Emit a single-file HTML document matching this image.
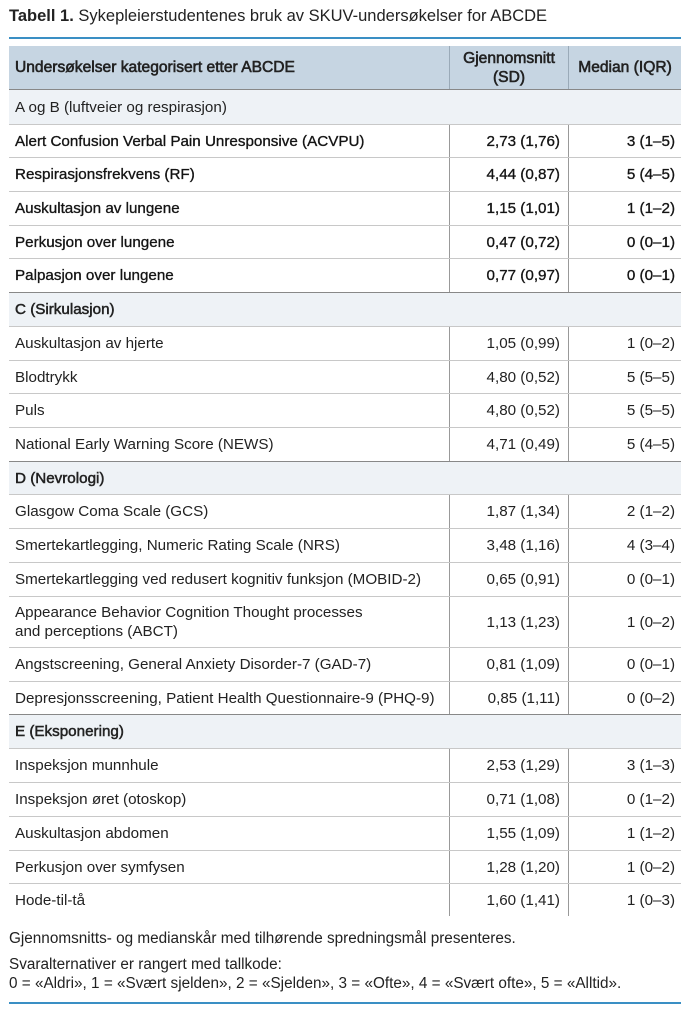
<!DOCTYPE html>
<html><head><meta charset="utf-8"><style>
body{margin:0;width:691px;height:1024px;background:#fff;font-family:"Liberation Sans",sans-serif;color:#222;position:relative;overflow:hidden}
.t{position:absolute;left:9px;top:7px;font-size:16.5px;white-space:nowrap}
.bl{position:absolute;left:9px;width:672px;height:2px;background:#3a8fc4}
.r{position:absolute;left:9px;width:672px;border-top:1px solid #c8c8c8;box-sizing:border-box;font-size:15.2px;white-space:nowrap}
.r div{position:absolute;top:0;bottom:0;display:flex;align-items:center;box-sizing:border-box}
.c1{left:0;width:440px;padding-left:6px}
.c2{left:440px;width:119px;border-left:1px solid #999;justify-content:flex-end;padding-right:8px}
.c3{left:559px;width:113px;border-left:1px solid #999;justify-content:flex-end;padding-right:6px}
.s{background:#eef2f6;border-top:1px solid #888;-webkit-text-stroke:0.5px #222}
.h{background:#c6d5e2;border-top:none;-webkit-text-stroke:0.6px #222;font-size:15.6px}
.h .c2,.h .c3{justify-content:center;text-align:center;padding-right:0;border-left:1px solid #9aaab8;line-height:19px}
.b{-webkit-text-stroke:0.35px #222;color:#111}
.f{position:absolute;left:9px;font-size:15.3px;line-height:19px;white-space:nowrap}
</style></head><body>
<div class="t"><b>Tabell 1.</b> Sykepleierstudentenes bruk av SKUV-undersøkelser for ABCDE</div>
<div class="bl" style="top:37px"></div>
<div class="r h" style="top:46px;height:43px"><div class="c1">Undersøkelser kategorisert etter ABCDE</div><div class="c2">Gjennomsnitt<br>(SD)</div><div class="c3">Median (IQR)</div></div>
<div class="r s" style="top:89px;height:35px;-webkit-text-stroke:0"><div class="c1">A og B (luftveier og respirasjon)</div></div>
<div class="r b" style="top:124px;height:33px"><div class="c1">Alert Confusion Verbal Pain Unresponsive (ACVPU)</div><div class="c2">2,73 (1,76)</div><div class="c3">3 (1–5)</div></div>
<div class="r b" style="top:157px;height:34px"><div class="c1">Respirasjonsfrekvens (RF)</div><div class="c2">4,44 (0,87)</div><div class="c3">5 (4–5)</div></div>
<div class="r b" style="top:191px;height:34px"><div class="c1">Auskultasjon av lungene</div><div class="c2">1,15 (1,01)</div><div class="c3">1 (1–2)</div></div>
<div class="r b" style="top:225px;height:33px"><div class="c1">Perkusjon over lungene</div><div class="c2">0,47 (0,72)</div><div class="c3">0 (0–1)</div></div>
<div class="r b" style="top:258px;height:34px"><div class="c1">Palpasjon over lungene</div><div class="c2">0,77 (0,97)</div><div class="c3">0 (0–1)</div></div>
<div class="r s" style="top:292px;height:34px"><div class="c1">C (Sirkulasjon)</div></div>
<div class="r" style="top:326px;height:34px"><div class="c1">Auskultasjon av hjerte</div><div class="c2">1,05 (0,99)</div><div class="c3">1 (0–2)</div></div>
<div class="r" style="top:360px;height:33px"><div class="c1">Blodtrykk</div><div class="c2">4,80 (0,52)</div><div class="c3">5 (5–5)</div></div>
<div class="r" style="top:393px;height:34px"><div class="c1">Puls</div><div class="c2">4,80 (0,52)</div><div class="c3">5 (5–5)</div></div>
<div class="r" style="top:427px;height:34px"><div class="c1">National Early Warning Score (NEWS)</div><div class="c2">4,71 (0,49)</div><div class="c3">5 (4–5)</div></div>
<div class="r s" style="top:461px;height:33px"><div class="c1">D (Nevrologi)</div></div>
<div class="r" style="top:494px;height:34px"><div class="c1">Glasgow Coma Scale (GCS)</div><div class="c2">1,87 (1,34)</div><div class="c3">2 (1–2)</div></div>
<div class="r" style="top:528px;height:34px"><div class="c1">Smertekartlegging, Numeric Rating Scale (NRS)</div><div class="c2">3,48 (1,16)</div><div class="c3">4 (3–4)</div></div>
<div class="r" style="top:562px;height:34px"><div class="c1">Smertekartlegging ved redusert kognitiv funksjon (MOBID-2)</div><div class="c2">0,65 (0,91)</div><div class="c3">0 (0–1)</div></div>
<div class="r" style="top:596px;height:51px"><div class="c1" style="line-height:19px">Appearance Behavior Cognition Thought processes<br>and perceptions (ABCT)</div><div class="c2">1,13 (1,23)</div><div class="c3">1 (0–2)</div></div>
<div class="r" style="top:647px;height:34px"><div class="c1">Angstscreening, General Anxiety Disorder-7 (GAD-7)</div><div class="c2">0,81 (1,09)</div><div class="c3">0 (0–1)</div></div>
<div class="r" style="top:681px;height:33px"><div class="c1">Depresjonsscreening, Patient Health Questionnaire-9 (PHQ-9)</div><div class="c2">0,85 (1,11)</div><div class="c3">0 (0–2)</div></div>
<div class="r s" style="top:714px;height:34px"><div class="c1">E (Eksponering)</div></div>
<div class="r" style="top:748px;height:34px"><div class="c1">Inspeksjon munnhule</div><div class="c2">2,53 (1,29)</div><div class="c3">3 (1–3)</div></div>
<div class="r" style="top:782px;height:34px"><div class="c1">Inspeksjon øret (otoskop)</div><div class="c2">0,71 (1,08)</div><div class="c3">0 (1–2)</div></div>
<div class="r" style="top:816px;height:34px"><div class="c1">Auskultasjon abdomen</div><div class="c2">1,55 (1,09)</div><div class="c3">1 (1–2)</div></div>
<div class="r" style="top:850px;height:33px"><div class="c1">Perkusjon over symfysen</div><div class="c2">1,28 (1,20)</div><div class="c3">1 (0–2)</div></div>
<div class="r" style="top:883px;height:33px"><div class="c1">Hode-til-tå</div><div class="c2">1,60 (1,41)</div><div class="c3">1 (0–3)</div></div>
<div class="f" style="top:929px">Gjennomsnitts- og medianskår med tilhørende spredningsmål presenteres.</div>
<div class="f" style="top:955px">Svaralternativer er rangert med tallkode:<br>0 = «Aldri», 1 = «Svært sjelden», 2 = «Sjelden», 3 = «Ofte», 4 = «Svært ofte», 5 = «Alltid».</div>
<div class="bl" style="top:1002px"></div>
</body></html>
